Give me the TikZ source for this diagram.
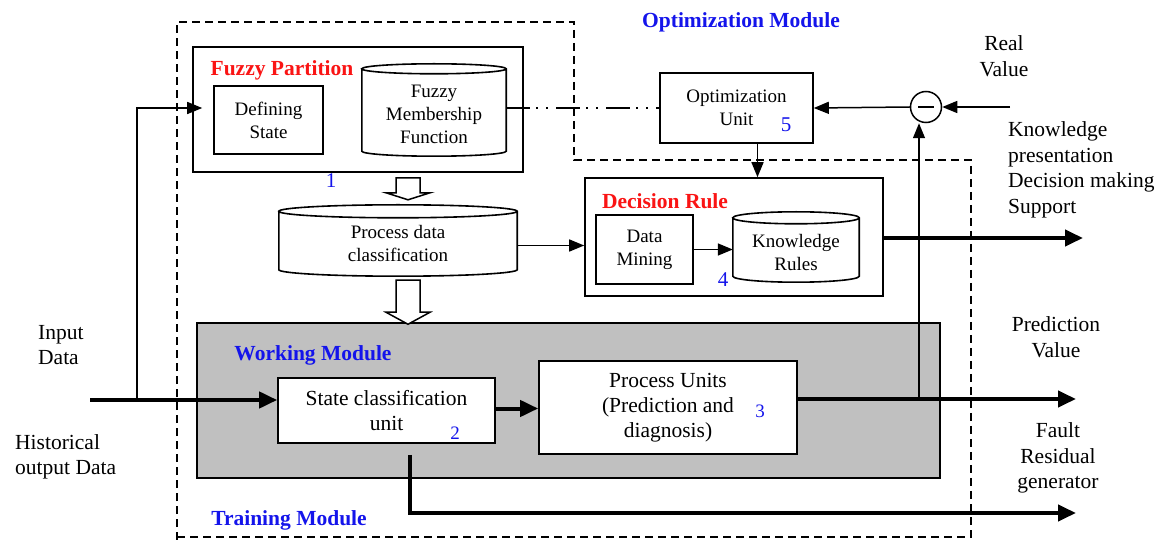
\documentclass[tikz,border=0pt]{standalone}
\usepackage{fontspec}
\setmainfont{Liberation Serif}
\usetikzlibrary{arrows.meta,calc}
\definecolor{mblue}{RGB}{20,20,235}
\definecolor{mred}{RGB}{250,20,20}
\definecolor{wgray}{RGB}{192,192,192}
\newcommand\cylout[2]{\draw[line width=1.6pt] let \p1=(#1.north west), \p2=(#1.south east), \n1={(\x2-\x1)/2} in
  (\x1,\y1-#2) -- (\x1,\y2+#2) arc[start angle=180,end angle=360,x radius={\n1*1pt},y radius=#2]
  -- (\x2,\y1-#2) arc[start angle=0,end angle=360,x radius={\n1*1pt},y radius=#2];}
\newcommand\lowtab[2]{\raisebox{-#1}[\height][\depth]{\begin{tabular}{@{}c@{}}#2\end{tabular}}}
\newcommand\hollowarr[3]{\draw[line width=1.5pt, fill=white, line join=miter] let \p1=#1, \p2=#2 in
  (\x1-12pt,\y1) -- (\x1+12pt,\y1) -- (\x1+12pt,\y2+#3) -- (\x1+22pt,\y2+#3) -- (\x1,\y2)
  -- (\x1-22pt,\y2+#3) -- (\x1-12pt,\y2+#3) -- cycle;}
\begin{document}
\begin{tikzpicture}[x=1pt,y=-1pt,
  lbl/.style={font=\fontsize{21.5}{25.5}\selectfont, align=center, inner sep=0pt},
  boxtxt/.style={font=\fontsize{19}{23}\selectfont, align=center},
  cyltxt/.style={font=\fontsize{19}{23}\selectfont, inner sep=0pt},
  bigtxt/.style={font=\fontsize{21.5}{25}\selectfont, align=center},
  box/.style={draw, line width=1.6pt, fill=white, inner sep=0pt},
  title/.style={font=\fontsize{21.5}{25}\selectfont\bfseries, inner sep=0pt},
  num/.style={font=\fontsize{21}{21}\selectfont, text=mblue, inner sep=0pt},
  nums/.style={font=\fontsize{19}{19}\selectfont, text=mblue, inner sep=0pt},
  thin/.style={line width=1.5pt},
  thick/.style={line width=4pt},
  tarr/.style={-{Triangle[length=15pt,width=12pt]}},
  Tarr/.style={-{Triangle[length=18pt,width=16pt]}},
  dashbox/.style={line width=1.8pt, dash pattern=on 8pt off 5pt},
  dashdotdot/.style={line width=1.5pt, dash pattern=on 24pt off 6pt on 2pt off 8pt on 2pt off 8pt},
]
\useasboundingbox (0,0) rectangle (1163,540);
\fill[white] (0,0) rectangle (1163,540);

% training module outline
\draw[dashbox] (177,540) -- (177,22) -- (574,22) -- (574,160) -- (971,160) -- (971,540);
\draw[dashbox] (177,537) -- (971,537);

% fuzzy partition
\node[box, minimum width=330, minimum height=125] (fp) at (358,109.5) {};
\node[title, text=mred] (fpt) at (282,70) {Fuzzy Partition};
\node[box, boxtxt, minimum width=109, minimum height=68] (ds) at (268.5,120) {Defining\\State};
\node[cyltxt, minimum width=144, minimum height=92] (fmf) at (434,110) {\lowtab{5.5pt}{Fuzzy\\Membership\\Function}};
\cylout{fmf}{5pt}
\node[num] (n1) at (331,181) {1};

% process data classification
\node[cyltxt, minimum width=238, minimum height=71] (pdc) at (398,240.5) {\lowtab{4.5pt}{Process data\\classification}};
\cylout{pdc}{6.5pt}
\coordinate (ha) at (408,0);
\hollowarr{($(fp.south -| ha)+(0,5)$)}{($(pdc.north -| ha)+(0,-5)$)}{7pt}

% optimization
\node[title, text=mblue] (omt) at (741,22) {Optimization Module};
\node[box, boxtxt, minimum width=153, minimum height=70] (ou) at (736.5,108) {Optimization\\Unit};
\node[num] (n5) at (786,125) {5};
\node[draw, circle, thin, minimum size=31, inner sep=0pt] (circ) at (926,107) {};
\draw[thin] ([xshift=-8]circ.center) -- ([xshift=8]circ.center);
\node[lbl] (rvl) at (1004,56) {Real\\Value};
\coordinate (rv) at (1010,107);
\draw[thin, tarr] (rv) -- (circ.east);
\draw[thin, tarr] (circ.west) -- (ou.east);
\draw[dashdotdot] (fmf.east |- ou.west) -- (ou.west);

% decision rule
\node[box, minimum width=298, minimum height=118] (dr) at (734,237) {};
\node[title, text=mred] (drt) at (665,201) {Decision Rule};
\node[box, boxtxt, minimum width=97, minimum height=69] (dm) at (644.5,249.5) {Data\\Mining};
\node[cyltxt, minimum width=126, minimum height=70] (kr) at (796,247) {\lowtab{7.5pt}{Knowledge\\Rules}};
\cylout{kr}{6pt}
\node[num] (n4) at (723,280) {4};
\draw[thin, tarr] (dm.east) -- (dm.east -| kr.west);
\draw[thin, tarr] ([xshift=21]ou.south) -- ([xshift=21]ou.south |- dr.north);
\draw[thin, tarr] ([yshift=-5]pdc.east) -- ([yshift=-5]pdc.east -| dr.west);
\coordinate (ko) at (1083,238);
\draw[thick, Tarr] (dr.east |- ko) -- (ko);
\node[lbl, align=left, anchor=west] (kpl) at (1008,170) {Knowledge\\presentation\\Decision making\\Support};

% working module
\node[draw, thin, fill=wgray, minimum width=743, minimum height=155] (wm) at (568.5,400.5) {};
\hollowarr{($(pdc.south -| ha)+(0,4)$)}{($(wm.north -| ha)+(0,2)$)}{12pt}
\node[title, text=mblue] (wmt) at (313,355) {Working\ Module};
\node[box, bigtxt, minimum width=217, minimum height=65] (scu) at (386.5,410.5) {State classification\\unit};
\node[nums] (n2) at (455,433) {2};
\node[box, bigtxt, minimum width=258, minimum height=93] (pu) at (668,407.5) {Process Units\\(Prediction and\\diagnosis)};
\node[nums] (n3) at (760,411) {3};
\draw[thick, Tarr] ([yshift=2]scu.east) -- ([yshift=2]scu.east -| pu.west);

% inputs
\coordinate (in) at (90,400);
\draw[thick, Tarr] (in) -- (in -| scu.west);
\coordinate (j1) at (137,400);
\draw[thin, tarr] (j1) |- ([xshift=-11,yshift=12]ds.west);
\node[lbl, align=left, anchor=west] (idl) at (38,345) {Input\\Data};
\node[lbl, align=left, anchor=west] (hdl) at (15,457) {Historical\\output Data};

% outputs
\coordinate (pv) at (1076,399);
\draw[thick, Tarr] (pu.east |- pv) -- (pv);
\coordinate (j2) at (919,399);
\draw[thin, tarr] (j2) -- (j2 |- circ.south);
\node[lbl] (pvl) at (1056,337) {Prediction\\Value};
\coordinate (fr) at (1076,513);
\draw[thick, Tarr] ($(scu.south)+(23.5,11)$) |- (fr);
\node[lbl] (frl) at (1058,458) {Fault\\Residual\\generator};
\node[title, text=mblue] (tmt) at (289,520) {Training Module};
\end{tikzpicture}
\end{document}
